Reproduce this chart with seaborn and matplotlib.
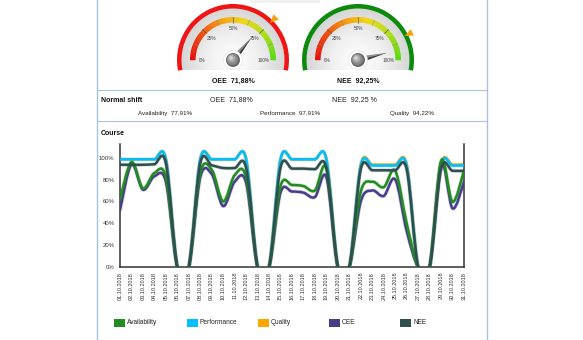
import numpy as np
import matplotlib
matplotlib.use("Agg")
import matplotlib.pyplot as plt
import seaborn as sns
from matplotlib.path import Path
from matplotlib.patches import PathPatch, Wedge, Polygon, Circle, Rectangle
from matplotlib.colors import LinearSegmentedColormap
import matplotlib.patheffects as pe

# ---------------- data ----------------
days = [f"{d:02d}.10.2018" for d in range(1, 32)]

availability = [62, 96, 72, 86, 82, 0, 0, 86, 89, 60, 84, 82, 0, 0,
                74, 75, 74, 70, 90, 0, 0, 69, 78, 73, 88, 40, 0, 0, 97, 59.6, 88]
performance = [98.5, 98.5, 98.5, 98.5, 98.5, 0, 0, 98.5, 98.5, 98.5, 98.5, 98.5, 0, 0,
               98.5, 98.5, 98.5, 98.5, 98.5, 0, 0, 92.8, 92.8, 92.8, 92.8, 92.8, 0, 0,
               92.8, 92.8, 92.8]
quality = [98.5, 98.5, 98.5, 98.5, 98.5, 0, 0, 98.5, 98.5, 98.5, 98.5, 98.5, 0, 0,
           98.5, 98.5, 98.5, 98.5, 98.5, 0, 0, 93.6, 93.6, 93.6, 93.6, 93.6, 0, 0,
           93.6, 93.6, 93.6]
oee = [52, 94, 70.7, 83, 78, 0, 0, 82, 85, 55.7, 78, 77, 0, 0,
       68, 69, 68, 64, 82, 0, 0, 60, 70, 65, 80, 33, 0, 0, 95, 53.6, 78]
nee = [93.5, 93.5, 93.5, 94, 95, 0, 0, 95, 93, 90.5, 90.5, 90.5, 0, 0,
       91, 90, 90, 89.5, 90.5, 0, 0, 89.5, 88.5, 88.5, 88.5, 89.5, 0, 0, 89.5, 88, 88]

series_names = ["Availability", "Performance", "Quality", "OEE", "NEE"]
series_colors = ["#228B22", "#00BFFF", "#FFA500", "#483D8B", "#2F4F4F"]

gauge_names = ["OEE", "NEE"]
gauge_values = [71.88, 92.25]
gauge_texts = ["71,88%", "92,25%"]
gauge_targets = [75, 85]
gauge_ring_colors = ["#f01414", "#0c8a0c"]
gauge_tick_labels = ["0%", "25%", "50%", "75%", "100%"]

shift_title = "Normal shift"
shift_row1 = [("OEE  71,88%", 210), ("NEE  92,25 %", 332)]
shift_row2 = [("Availability  77,91%", 138), ("Performance  97,91%", 260), ("Quality  94,22%", 390)]

y_ticks = [0, 20, 40, 60, 80, 100]
y_labels = ["0%", "20%", "40%", "60%", "80%", "100%"]

# ---------------- style ----------------
sns.set_style("white")
plt.rcParams['font.family'] = ['Liberation Sans', 'DejaVu Sans']

W, H = 583, 340
fig = plt.figure(figsize=(W / 100, H / 100), dpi=100)
fig.patch.set_facecolor("white")

ov = fig.add_axes([0, 0, 1, 1], zorder=0)
ov.set_xlim(0, W)
ov.set_ylim(0, H)
ov.axis("off")


def Y(y):
    return H - y


frame_col = "#a9c2de"
ov.plot([96.5, 96.5], [0, H], color=frame_col, lw=1.0)
ov.plot([486.5, 486.5], [0, H], color=frame_col, lw=1.0)
ov.plot([96.5, 486.5], [Y(90), Y(90)], color=frame_col, lw=0.8)
ov.plot([96.5, 486.5], [Y(121), Y(121)], color=frame_col, lw=0.8)
ov.add_patch(Rectangle((250, Y(2.5)), 70, 2.5, facecolor="#f1f1f1", edgecolor="none"))

face_cmap = LinearSegmentedColormap.from_list("face", ["#ffffff", "#f0f0f0", "#d6d6d6"])
band_cmap = LinearSegmentedColormap.from_list(
    "band", [(0, "#e40e0e"), (0.22, "#ee4a0c"), (0.42, "#f5a20a"), (0.57, "#f3d616"),
             (0.76, "#b6df1a"), (1.0, "#55d911")])


def gauge(cx, cy_px, value, target, ring_color, name, text):
    cy = Y(cy_px)
    rf = 52
    phi = np.radians(np.linspace(-11, 191, 200))
    pts = np.c_[cx + rf * np.cos(phi), cy + rf * np.sin(phi)]
    face = Polygon(pts, closed=True, facecolor="none", edgecolor="none")
    ov.add_patch(face)
    yy, xx = np.mgrid[-1:1:200j, -1:1:200j]
    rr = np.sqrt(xx ** 2 + yy ** 2)
    im = ov.imshow(rr, extent=(cx - rf, cx + rf, cy - rf, cy + rf), cmap=face_cmap,
                   vmin=0, vmax=1, origin="lower", aspect="auto", zorder=1,
                   interpolation="bilinear")
    im.set_clip_path(face)
    ov.add_patch(Wedge((cx, cy), 56, -11, 191, width=4.5, facecolor=ring_color,
                       edgecolor="none", zorder=2))
    n = 120
    for k in range(n):
        a1 = 180 - k * 180 / n
        a0 = 180 - (k + 1) * 180 / n
        ov.add_patch(Wedge((cx, cy), 43, a0 - 0.3, a1 + 0.3, width=5.5,
                           facecolor=band_cmap((k + 0.5) / n), edgecolor="none", zorder=3))
    for p in np.arange(12.5, 100, 12.5):
        a = np.radians(180 - p * 1.8)
        major = (p % 25 == 0)
        r0, r1 = 37.5, 43
        ov.plot([cx + r0 * np.cos(a), cx + r1 * np.cos(a)],
                [cy + r0 * np.sin(a), cy + r1 * np.sin(a)],
                color="#555555" if major else "#8a8a8a", lw=0.5 if major else 0.35, zorder=4)
    for i, lab in enumerate(gauge_tick_labels):
        a = np.radians(180 - i * 45)
        ov.text(cx + 31 * np.cos(a), cy + 31 * np.sin(a), lab, fontsize=3.4,
                color="#444444", ha="center", va="center", zorder=4)
    a = np.radians(180 - target * 1.8)
    u = np.array([np.cos(a), np.sin(a)])
    pp = np.array([-np.sin(a), np.cos(a)])
    c = np.array([cx, cy])
    tri = [c + 52.5 * u, c + 61 * u + 3.6 * pp, c + 61 * u - 3.6 * pp]
    ov.add_patch(Polygon(tri, closed=True, facecolor="#f7a20c", edgecolor="none", zorder=5))
    a = np.radians(180 - value * 1.8)
    u = np.array([np.cos(a), np.sin(a)])
    pp = np.array([-np.sin(a), np.cos(a)])
    tip = c + 30 * u
    ov.add_patch(Polygon([c + 3.4 * pp, tip, c], closed=True, facecolor="#8c8c8c",
                         edgecolor="none", zorder=6))
    ov.add_patch(Polygon([c, tip, c - 3.4 * pp], closed=True, facecolor="#3a3a3a",
                         edgecolor="none", zorder=6))
    ov.add_patch(Circle((cx, cy), 9.5, facecolor="#fdfdfd", edgecolor="#e2e2e2", lw=0.4, zorder=7))
    ov.add_patch(Circle((cx, cy), 7, facecolor="#6a6a6a", edgecolor="none", zorder=8))
    ov.add_patch(Circle((cx - 0.7, cy + 0.7), 5.6, facecolor="#8a8a8a", edgecolor="none", zorder=8))
    ov.add_patch(Circle((cx - 1.4, cy + 1.4), 3.8, facecolor="#acacac", edgecolor="none", zorder=8))
    ov.add_patch(Circle((cx - 2.0, cy + 2.0), 1.9, facecolor="#d2d2d2", edgecolor="none", zorder=8))
    ov.text(cx, Y(81.5), f"{name}  {text}", fontsize=5, fontweight="bold", color="#111111",
            ha="center", va="center", zorder=8)


gauge(233, 60, gauge_values[0], gauge_targets[0], gauge_ring_colors[0], gauge_names[0], gauge_texts[0])
gauge(358, 60, gauge_values[1], gauge_targets[1], gauge_ring_colors[1], gauge_names[1], gauge_texts[1])
ov.set_xlim(0, W)
ov.set_ylim(0, H)

ov.text(101, Y(100), shift_title, fontsize=5, fontweight="bold", color="#111111", va="center")
for t, x in shift_row1:
    ov.text(x, Y(100), t, fontsize=5, color="#222222", va="center")
for t, x in shift_row2:
    ov.text(x, Y(113), t, fontsize=4.5, color="#222222", va="center")
ov.text(101, Y(133.5), "Course", fontsize=5, fontweight="bold", color="#111111", va="center")

leg_x = [114, 187, 258, 329, 400]
for name, col, lx in zip(series_names, series_colors, leg_x):
    ov.add_patch(Rectangle((lx, Y(326.5)), 11, 7.5, facecolor=col, edgecolor="none"))
    ov.text(lx + 13, Y(322.8), name, fontsize=4.7, color="#222222", va="center")

# ---------------- line chart ----------------
ax = fig.add_axes([120 / W, (H - 267) / H, 344 / W, 123 / H], zorder=2)
ax.patch.set_alpha(0)
xs = np.arange(len(days))


def spline_path(x, y):
    P = np.c_[np.asarray(x, float), np.asarray(y, float)]
    n = len(P)
    verts = [P[0]]
    codes = [Path.MOVETO]
    for i in range(n - 1):
        p0 = P[i - 1] if i > 0 else P[i]
        p1 = P[i]
        p2 = P[i + 1]
        p3 = P[i + 2] if i + 2 < n else P[i + 1]
        verts += [p1 + (p2 - p0) / 6.0, p2 - (p3 - p1) / 6.0, p2]
        codes += [Path.CURVE4] * 3
    return Path(np.array(verts), codes)


draw_order = [("Quality", quality, 2), ("Performance", performance, 3),
              ("OEE", oee, 4), ("Availability", availability, 5), ("NEE", nee, 6)]
col_map = dict(zip(series_names, series_colors))
for name, vals, z in draw_order:
    patch = PathPatch(spline_path(xs, vals), fill=False, edgecolor=col_map[name], lw=1.8,
                      capstyle="round", joinstyle="round", zorder=z)
    patch.set_path_effects([pe.Stroke(linewidth=2.8, foreground=col_map[name], alpha=0.22),
                            pe.Normal()])
    ax.add_patch(patch)

ax.set_xlim(0, len(days) - 1)
ax.set_ylim(0, 112.5)
ax.set_yticks(y_ticks)
ax.set_yticklabels(y_labels)
ax.set_xticks(xs)
ax.set_xticklabels(days, rotation=90)
ax.tick_params(axis="y", length=0, pad=4, labelsize=4.3, colors="#333333")
ax.tick_params(axis="x", length=2, width=0.5, pad=1.5, labelsize=4, colors="#333333")
sns.despine(ax=ax, top=True, right=False)
for s in ["left", "bottom", "right"]:
    ax.spines[s].set_color("#333333")
    ax.spines[s].set_linewidth(1.1)
ax.grid(False)

fig.savefig("out.png", dpi=100)
